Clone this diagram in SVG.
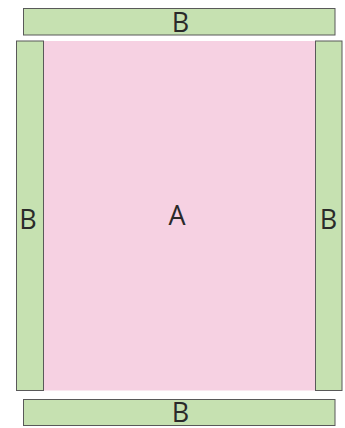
<svg xmlns="http://www.w3.org/2000/svg" width="345" height="428" viewBox="0 0 345 428">
<style>
.b{fill:#c6e1b1;stroke:#595959;stroke-width:1}
.a{fill:#f6d1e2;stroke:none}
.t{font-family:"Open Sans",sans-serif;font-weight:400;font-size:27px;fill:#2a2a2a;text-anchor:middle}
</style>
<g id="A">
<rect class="a" x="43.5" y="41" width="272" height="349.5"/>
<text class="t" x="177" y="224.5">A</text>
</g>
<g id="B-top">
<rect class="b" x="23.5" y="8.5" width="311.5" height="26.5"/>
<text class="t" x="180.5" y="31.5">B</text>
</g>
<g id="B-bottom">
<rect class="b" x="23.5" y="399.5" width="311.5" height="26"/>
<text class="t" x="180.5" y="421.5">B</text>
</g>
<g id="B-left">
<rect class="b" x="16.5" y="41" width="27" height="349.5"/>
<text class="t" x="28" y="229">B</text>
</g>
<g id="B-right">
<rect class="b" x="315.5" y="41" width="26.5" height="349.5"/>
<text class="t" x="328.5" y="229">B</text>
</g>
<g id="connectors"/>
</svg>
